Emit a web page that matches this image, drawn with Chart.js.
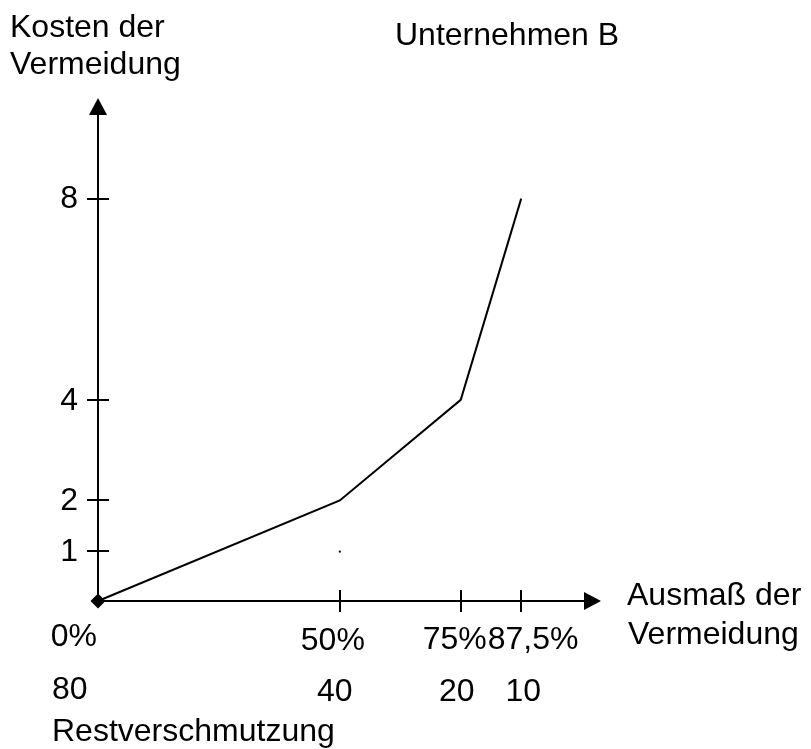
<!DOCTYPE html>
<html><head><meta charset="utf-8">
<script src="https://cdn.jsdelivr.net/npm/chart.js@4/dist/chart.umd.min.js"></script>
<style>html,body{margin:0;padding:0;background:#fff}canvas{display:block}</style>
</head><body>
<canvas id="c" width="811" height="749"></canvas>
<script>
// ---- data ----
const abatementPercent = [0, 50, 75, 87.5];
const abatementCost = [0, 2, 4, 8];
const yTickValues = [1, 2, 4, 8];
const xTickLabels = ['0%', '50%', '75%', '87,5%'];
const residualLabels = ['80', '40', '20', '10'];
const strayMark = [{x: 50, y: 0.98}];
const chartTitle = 'Unternehmen B';
const yAxisTitle = ['Kosten der', 'Vermeidung'];
const xAxisTitle = ['Ausmaß der', 'Vermeidung'];
const residualTitle = 'Restverschmutzung';

const FONT = '32px "Liberation Sans", Arial, sans-serif';

const axesPlugin = {
  id: 'handAxes',
  beforeDatasetsDraw(chart) {
    const {ctx, scales: {x, y}} = chart;
    const x0 = x.getPixelForValue(0), y0 = y.getPixelForValue(0);
    const xEnd = x.right, yEnd = y.top;
    ctx.save();
    ctx.strokeStyle = '#000'; ctx.fillStyle = '#000'; ctx.lineWidth = 2;
    // y axis + arrow
    ctx.beginPath(); ctx.moveTo(x0, y0); ctx.lineTo(x0, yEnd + 14); ctx.stroke();
    ctx.beginPath(); ctx.moveTo(x0, yEnd); ctx.lineTo(x0 - 9, yEnd + 17); ctx.lineTo(x0 + 9, yEnd + 17); ctx.closePath(); ctx.fill();
    // x axis + arrow
    ctx.beginPath(); ctx.moveTo(x0, y0); ctx.lineTo(xEnd - 14, y0); ctx.stroke();
    ctx.beginPath(); ctx.moveTo(xEnd, y0); ctx.lineTo(xEnd - 17, y0 - 9); ctx.lineTo(xEnd - 17, y0 + 9); ctx.closePath(); ctx.fill();
    // y tick marks
    yTickValues.forEach(v => {
      const py = Math.round(y.getPixelForValue(v));
      ctx.beginPath(); ctx.moveTo(x0 - 11, py); ctx.lineTo(x0 + 11, py); ctx.stroke();
    });
    // x tick marks
    abatementPercent.slice(1).forEach(v => {
      const px = Math.round(x.getPixelForValue(v));
      ctx.beginPath(); ctx.moveTo(px, y0 - 11); ctx.lineTo(px, y0 + 11); ctx.stroke();
    });
    // texts
    ctx.font = FONT;
    ctx.textBaseline = 'alphabetic';
    // y tick labels
    ctx.textAlign = 'right';
    ctx.textBaseline = 'middle';
    yTickValues.forEach(v => {
      ctx.fillText(String(v), x0 - 20, y.getPixelForValue(v) + 1);
    });
    ctx.textBaseline = 'alphabetic';
    // x tick labels (percent row)
    const px = abatementPercent.map(v => x.getPixelForValue(v));
    ctx.textAlign = 'right'; ctx.fillText(xTickLabels[0], px[0] - 1, y0 + 45);
    ctx.textAlign = 'center'; ctx.fillText(xTickLabels[1], px[1] - 7, y0 + 49);
    ctx.textAlign = 'center'; ctx.fillText(xTickLabels[2], px[2] - 6, y0 + 48);
    ctx.textAlign = 'left'; ctx.fillText(xTickLabels[3], px[2] + 27, y0 + 48);
    // residual row
    ctx.textAlign = 'left'; ctx.fillText(residualLabels[0], px[0] - 46, y0 + 98);
    ctx.textAlign = 'center'; ctx.fillText(residualLabels[1], px[1] - 5, y0 + 100);
    ctx.fillText(residualLabels[2], px[2] - 4, y0 + 100);
    ctx.fillText(residualLabels[3], px[3] + 2, y0 + 100);
    ctx.textAlign = 'left'; ctx.fillText(residualTitle, px[0] - 46, y0 + 140);
    // x axis title
    ctx.fillText(xAxisTitle[0], xEnd + 26, y0 + 4);
    ctx.fillText(xAxisTitle[1], xEnd + 27, y0 + 43);
    // y axis title & chart title
    ctx.fillText(yAxisTitle[0], 10, 37);
    ctx.fillText(yAxisTitle[1], 10, 74);
    ctx.fillText(chartTitle, 395, 45);
    ctx.restore();
  }
};

new Chart(document.getElementById('c'), {
  type: 'line',
  data: {
    datasets: [
      {
        data: abatementPercent.map((v, i) => ({x: v, y: abatementCost[i]})),
        borderColor: '#000', borderWidth: 2, tension: 0,
        pointStyle: 'rectRot',
        pointRadius: abatementPercent.map((v, i) => i === 0 ? 7.5 : 0),
        pointBackgroundColor: '#000', pointBorderColor: '#000', pointBorderWidth: 0,
        fill: false, clip: false
      },
      {
        data: strayMark, showLine: false,
        pointRadius: 1.1, pointBackgroundColor: '#000', pointBorderWidth: 0, clip: false
      }
    ]
  },
  options: {
    responsive: false, animation: false, devicePixelRatio: 1,
    layout: {padding: {left: 98, top: 98, right: 210, bottom: 148}},
    scales: {
      x: {type: 'linear', min: 0, max: 104, display: false},
      y: {type: 'linear', min: 0, max: 10, display: false}
    },
    plugins: {legend: {display: false}, tooltip: {enabled: false}, title: {display: false}}
  },
  plugins: [axesPlugin]
});
</script>
</body></html>
